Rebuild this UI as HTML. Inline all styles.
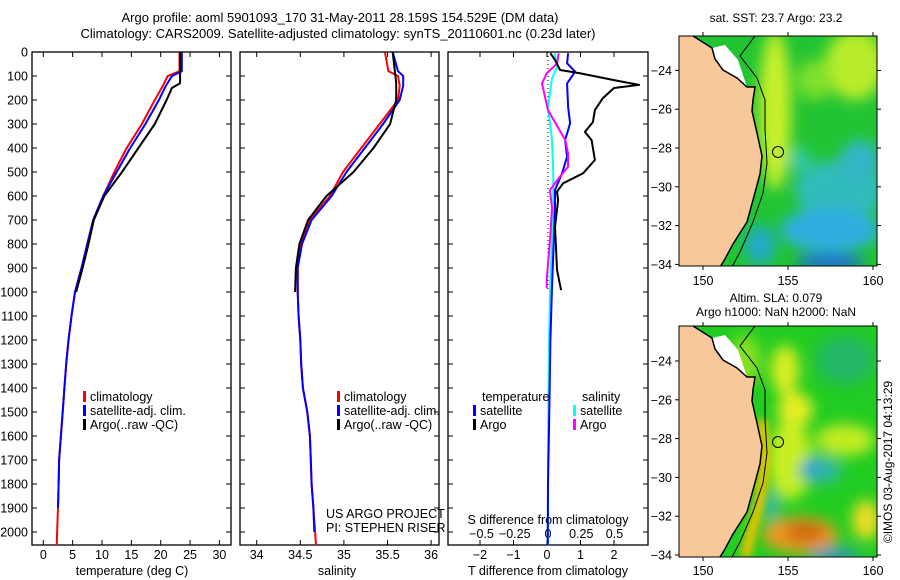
<!DOCTYPE html>
<html><head><meta charset="utf-8"><style>
html,body{margin:0;padding:0;background:#fff;}
svg{display:block;font-family:"Liberation Sans",Arial,sans-serif;}
text{fill:#000;}
</style></head><body>
<svg id="fig" width="900" height="580" viewBox="0 0 900 580">
<defs>
<clipPath id="m1clip"><rect x="679" y="36" width="198" height="230"/></clipPath>
<clipPath id="m2clip"><rect x="679" y="326" width="198" height="231"/></clipPath>
<filter id="blur" x="-50%" y="-50%" width="200%" height="200%"><feGaussianBlur stdDeviation="7"/></filter>
<filter id="blur2" x="-50%" y="-50%" width="200%" height="200%"><feGaussianBlur stdDeviation="4"/></filter>
</defs>
<text x="340" y="22" font-size="13" text-anchor="middle">Argo profile: aoml 5901093_170 31-May-2011 28.159S 154.529E (DM data)</text>
<text x="338" y="38" font-size="13" text-anchor="middle">Climatology: CARS2009. Satellite-adjusted climatology: synTS_20110601.nc (0.23d later)</text>

<g id="p1"></g>
<g id="p2"></g>
<g id="p3"></g>

<!-- Map 1 SST -->
<g>
<text x="776" y="22" font-size="12" text-anchor="middle">sat. SST: 23.7 Argo: 23.2</text>
<g clip-path="url(#m1clip)">
<rect x="679" y="36" width="198" height="230" fill="#22c433"/>
<g filter="url(#blur)">
<ellipse cx="775" cy="110" rx="16" ry="80" fill="#c8f02a"/>
<ellipse cx="855" cy="65" rx="30" ry="35" fill="#b8ec2a"/>
<ellipse cx="815" cy="80" rx="18" ry="20" fill="#80e02a"/>
<ellipse cx="840" cy="190" rx="45" ry="30" fill="#33bbbb"/>
<ellipse cx="830" cy="230" rx="50" ry="22" fill="#2eaee0"/>
<ellipse cx="860" cy="160" rx="20" ry="20" fill="#33b5c8"/>
<ellipse cx="830" cy="262" rx="35" ry="8" fill="#1a66dd"/>
<ellipse cx="760" cy="245" rx="15" ry="20" fill="#22aacc"/>
<ellipse cx="800" cy="160" rx="12" ry="12" fill="#30c8a0"/>
</g>
<polygon points="712,48 715,59 723,70 737,78 747,87 738,60 725,45" fill="#ffffff"/>
<polygon points="679,36 693,36 712,48 715,59 723,70 737,78 747,87 755,87 753,100 752,111 757,133 762,156 760,174 753,200 747,222 733,244 725,259 720,267 679,267" fill="#f9c89a"/>
<polyline points="693,36 712,48 715,59 723,70 737,78 747,87 755,87 753,100 752,111 757,133 762,156 760,174 753,200 747,222 733,244 725,259 720,267" fill="none" stroke="#000" stroke-width="1.5"/>
<polyline points="755,36 740,56 757,78 765,100 765,130 767,163 763,193 753,222 740,252 732,267" fill="none" stroke="#000" stroke-width="1"/>
<circle cx="778" cy="152" r="5.5" fill="none" stroke="#000" stroke-width="1"/>
</g>
<rect x="679" y="36" width="198" height="230" fill="none" stroke="#000" stroke-width="1"/>
</g>

<!-- Map 2 SLA -->
<g>
<text x="776" y="302" font-size="12" text-anchor="middle">Altim. SLA: 0.079</text>
<text x="776" y="316" font-size="12" text-anchor="middle">Argo h1000: NaN h2000: NaN</text>
<g clip-path="url(#m2clip)">
<rect x="679" y="326" width="198" height="231" fill="#22cc22"/>
<g filter="url(#blur)">
<ellipse cx="845" cy="360" rx="30" ry="25" fill="#22b866"/>
<ellipse cx="785" cy="370" rx="14" ry="25" fill="#ddee22"/>
<ellipse cx="795" cy="410" rx="18" ry="18" fill="#e6ee22"/>
<ellipse cx="790" cy="460" rx="22" ry="40" fill="#c8ee22"/>
<ellipse cx="845" cy="440" rx="30" ry="16" fill="#c0ec22"/>
<ellipse cx="820" cy="470" rx="22" ry="14" fill="#33b8a0"/>
<ellipse cx="812" cy="468" rx="10" ry="7" fill="#2a99dd"/>
<ellipse cx="770" cy="505" rx="10" ry="16" fill="#33bb99"/>
<ellipse cx="800" cy="535" rx="38" ry="18" fill="#ee9922"/>
<ellipse cx="805" cy="532" rx="20" ry="10" fill="#cc6611"/>
<ellipse cx="866" cy="520" rx="14" ry="20" fill="#eedd22"/>
<ellipse cx="835" cy="555" rx="25" ry="6" fill="#3388dd"/>
<ellipse cx="745" cy="360" rx="16" ry="25" fill="#88e022"/>
</g>
<polyline points="762,420 765,460 760,500 752,530 745,557" fill="none" stroke="#f2c200" stroke-width="10" filter="url(#blur2)"/>
<polygon points="712,338 715,349 723,360 737,368 747,377 738,350 725,335" fill="#ffffff"/>
<polygon points="679,326 693,326 712,338 715,349 723,360 737,368 747,377 755,377 753,390 752,401 757,423 762,446 760,464 753,490 747,512 733,534 725,549 720,557 679,557" fill="#f9c89a"/>
<polyline points="693,326 712,338 715,349 723,360 737,368 747,377 755,377 753,390 752,401 757,423 762,446 760,464 753,490 747,512 733,534 725,549 720,557" fill="none" stroke="#000" stroke-width="1.5"/>
<polyline points="755,326 740,346 757,368 765,390 765,420 767,453 763,483 753,512 740,542 732,557" fill="none" stroke="#000" stroke-width="1"/>
<circle cx="778" cy="442" r="5.5" fill="none" stroke="#000" stroke-width="1"/>
</g>
<rect x="679" y="326" width="198" height="231" fill="none" stroke="#000" stroke-width="1"/>
</g>
<g id="mapaxes"></g>
<text transform="translate(892,462) rotate(-90)" font-size="12" text-anchor="middle">©IMOS 03-Aug-2017 04:13:29</text>
</svg>
<script>
// ---- data ----
const climDepth = [0,80,100,140,200,300,400,500,600,700,800,900,1000,1100,1200,1300,1400,1500,1600,1700,1800,1900,2000,2055];
const tClim = [23.2,23.2,21.2,20.4,19.0,16.8,14.2,12.1,10.2,8.5,7.5,6.5,5.4,4.8,4.3,3.9,3.6,3.3,3.0,2.7,2.6,2.5,2.35,2.3];
const tSat  = [23.6,23.6,21.9,20.9,19.7,17.4,14.8,12.5,10.2,8.5,7.5,6.5,5.4,4.8,4.3,3.9,3.6,3.3,3.0,2.7,2.6,2.5,2.4,2.35];
const sClim = [35.47,35.51,35.62,35.64,35.62,35.41,35.20,34.99,34.84,34.61,34.50,34.47,34.47,34.48,34.50,34.51,34.53,34.58,34.61,34.62,34.63,34.65,34.67,34.68];
const sSat  = [35.56,35.62,35.68,35.68,35.64,35.45,35.24,35.03,34.86,34.63,34.52,34.47,34.47,34.48,34.50,34.51,34.53,34.58,34.61,34.62,34.63,34.65,34.66,34.67];
const argoDepth = [0,130,150,200,300,400,500,600,700,800,900,1000];
const tArgo = [23.3,23.3,21.9,21.0,19.0,16.2,13.4,10.4,8.6,7.7,6.7,5.6];
const sArgo = [35.56,35.6,35.6,35.6,35.53,35.34,35.11,34.80,34.59,34.49,34.45,34.44];
const dTArgoDepth = [5,33,75,89,117,137,150,192,242,292,333,367,450,505,547,582,617,729,812,908,992];
const dTArgo = [0.1,0.24,0.39,1.0,2.0,2.75,2.0,1.67,1.43,1.37,1.13,1.33,1.43,1.08,0.48,0.3,0.33,0.24,0.27,0.3,0.42];
const dTSatDepth = [5,47,82,131,228,297,367,436,505,575,644,800,978,1200,1500,1800,2055];
const dTSat = [0.63,0.6,0.84,0.6,0.63,0.69,0.54,0.6,0.45,0.24,0.24,0.2,0.15,0.1,0.07,0.03,0.02];
const dSArgoDepth = [5,47,89,131,192,242,290,367,422,478,519,575,650,783,950,985];
const dSArgo = [0.08,0.07,-0.01,-0.045,-0.02,0,0.05,0.13,0.15,0.15,0.09,0.015,0.03,0.015,-0.01,-0.01];
const dSSatDepth = [5,60,110,228,367,505,644,783,1000,1300,1700,2055];
const dSSat = [0.05,0.07,0.03,0,0.03,0.04,0.04,0.03,0.015,0.005,0,0];
const depthTicks = [0,100,200,300,400,500,600,700,800,900,1000,1100,1200,1300,1400,1500,1600,1700,1800,1900,2000];
const tTicks = [0,5,10,15,20,25,30];
const sTicks = [34,34.5,35,35.5,36];
const sTickLabels = ["34","34.5","35","35.5","36"];
const dTTicks = [-2,-1,0,1,2];
const dSTicks = [-0.5,-0.25,0,0.25,0.5];
const dSTickLabels = ["\u22120.5","\u22120.25","0","0.25","0.5"];
const lonTicks = [150,155,160];
const latTicks = [-24,-26,-28,-30,-32,-34];

// ---- scales ----
const TOP=52, BOT=545;
const yD = d => TOP + d*0.24;
const xT = t => 43.3 + t*5.87;
const xS = s => 256.7 + (s-34)*87.2;
const xdT = v => 547 + v*33.5;
const xdS = v => 548 + v*133;
const NS='http://www.w3.org/2000/svg';
function mk(tag, parent, attrs){const e=document.createElementNS(NS,tag);for(const k in attrs)e.setAttribute(k,attrs[k]);parent.appendChild(e);return e;}
function txt(parent,x,y,s,anchor,size){const e=mk('text',parent,{x:x,y:y,'font-size':size||12,'text-anchor':anchor||'start'});e.textContent=s;return e;}
function series(parent,depths,vals,xf,color,name){
  let d='';depths.forEach((z,i)=>{d+=(i?'L':'M')+xf(vals[i]).toFixed(1)+','+yD(z).toFixed(1);});
  const p=mk('path',parent,{d:d,fill:'none',stroke:color,'stroke-width':2,'stroke-linejoin':'round'});
  
  
}
function frame(g,x0,x1,name,leftLabels){
  const r=mk('rect',g,{x:x0,y:TOP,width:x1-x0,height:BOT-TOP,fill:'none',stroke:'#000','stroke-width':1.3});
  
  
  depthTicks.forEach(d=>{
    const y=yD(d);
    mk('line',g,{x1:x0,x2:x0+5,y1:y,y2:y,stroke:'#000'});
    mk('line',g,{x1:x1-5,x2:x1,y1:y,y2:y,stroke:'#000'});
    if(leftLabels){const t=txt(g,28,y+4.5,String(d),'end',12.5);
      
      }
  });
}
function xticks(g,ticks,labels,xf,ly){
  ticks.forEach((v,i)=>{const x=xf(v);
    mk('line',g,{x1:x,x2:x,y1:TOP,y2:TOP+5,stroke:'#000'});
    mk('line',g,{x1:x,x2:x,y1:BOT-5,y2:BOT,stroke:'#000'});
    const t=txt(g,x,ly,labels[i],'middle',12.5);
    
    
  });
}
function legendBar(g,x,y,color,label){
  mk('rect',g,{x:x-1,y:y-10,width:3,height:11,fill:color});
  const t=txt(g,x+6,y,label,'start',12.5);
  
  
}

// Panel 1
const p1=document.getElementById('p1');
frame(p1,32,231,'temperature-panel',true);
xticks(p1,tTicks,tTicks.map(String),xT,559);
series(p1,climDepth,tClim,xT,'#ff0000','temperature-climatology-line');
series(p1,climDepth.slice(0,22),tSat.slice(0,22),xT,'#0000ff','temperature-satellite-line');
series(p1,argoDepth,tArgo,xT,'#000000','temperature-argo-line');
{const t=txt(p1,132,575,'temperature (deg C)','middle',12.5);}
legendBar(p1,84,401,'#ff0000','climatology');
legendBar(p1,84,415,'#0000ff','satellite-adj. clim.');
legendBar(p1,84,429,'#000000','Argo(..raw -QC)');

// Panel 2
const p2=document.getElementById('p2');
frame(p2,240,439,'salinity-panel',false);
xticks(p2,sTicks,sTickLabels,xS,559);
series(p2,climDepth,sClim,xS,'#ff0000','salinity-climatology-line');
series(p2,climDepth.slice(0,23),sSat.slice(0,23),xS,'#0000ff','salinity-satellite-line');
series(p2,argoDepth,sArgo,xS,'#000000','salinity-argo-line');
{const t=txt(p2,337,575,'salinity','middle',12.5);}
legendBar(p2,338,401,'#ff0000','climatology');
legendBar(p2,338,415,'#0000ff','satellite-adj. clim.');
legendBar(p2,338,429,'#000000','Argo(..raw -QC)');
{const t=txt(p2,326,518,'US ARGO PROJECT','start',12.5);
 const u=txt(p2,326,532,'PI: STEPHEN RISER','start',12.5);}

// Panel 3
const p3=document.getElementById('p3');
frame(p3,448,648,'difference-panel',false);
dTTicks.forEach(v=>{const x=xdT(v);
  mk('line',p3,{x1:x,x2:x,y1:BOT-5,y2:BOT,stroke:'#000'});
  mk('line',p3,{x1:x,x2:x,y1:TOP,y2:TOP+5,stroke:'#000'});
  const t=txt(p3,x,559,v<0?'\u2212'+(-v):String(v),'middle',12.5);
  });
dSTicks.forEach((v,i)=>{const x=xdS(v);
  const t=txt(p3,x,538,dSTickLabels[i],'middle',12.5);
  });
{const t=txt(p3,548,524,'S difference from climatology','middle',12.5);
 const u=txt(p3,548,575,'T difference from climatology','middle',12.5);}
mk('line',p3,{x1:548,x2:548,y1:TOP,y2:yD(1000),stroke:'#000','stroke-dasharray':'1,3'});
series(p3,dSSatDepth,dSSat,xdS,'#00ffff','salinity-satellite-diff-line');
series(p3,dTSatDepth,dTSat,xdT,'#0000ff','temperature-satellite-diff-line');
series(p3,dSArgoDepth,dSArgo,xdS,'#ff00ff','salinity-argo-diff-line');
series(p3,dTArgoDepth,dTArgo,xdT,'#000000','temperature-argo-diff-line');
{const t=txt(p3,482,401,'temperature','start',12.5);
 const u=txt(p3,582,401,'salinity','start',12.5);}
legendBar(p3,474,415,'#0000ff','satellite');
legendBar(p3,474,429,'#000000','Argo');
legendBar(p3,574,415,'#00ffff','satellite');
legendBar(p3,574,429,'#ff00ff','Argo');

// Map axes
const ma=document.getElementById('mapaxes');
const xLon = l => 703 + (l-150)*17;
[[36,266,70.4,280],[326,557,361,570]].forEach(([top,bot,y24,ly])=>{
  const yLat = la => y24 + (-24-la)*19.4;
  lonTicks.forEach(l=>{const x=xLon(l);
    mk('line',ma,{x1:x,x2:x,y1:bot,y2:bot+4,stroke:'#000'});
    mk('line',ma,{x1:x,x2:x,y1:top-4,y2:top,stroke:'#000'});
    const t=txt(ma,x,ly+5,String(l),'middle',12.5);
    });
  latTicks.forEach(la=>{const y=yLat(la);
    mk('line',ma,{x1:675,x2:679,y1:y,y2:y,stroke:'#000'});
    mk('line',ma,{x1:877,x2:881,y1:y,y2:y,stroke:'#000'});
    const t=txt(ma,672,y+4.5,'\u2212'+(-la),'end',12.5);
    });
});
</script>
</body></html>
